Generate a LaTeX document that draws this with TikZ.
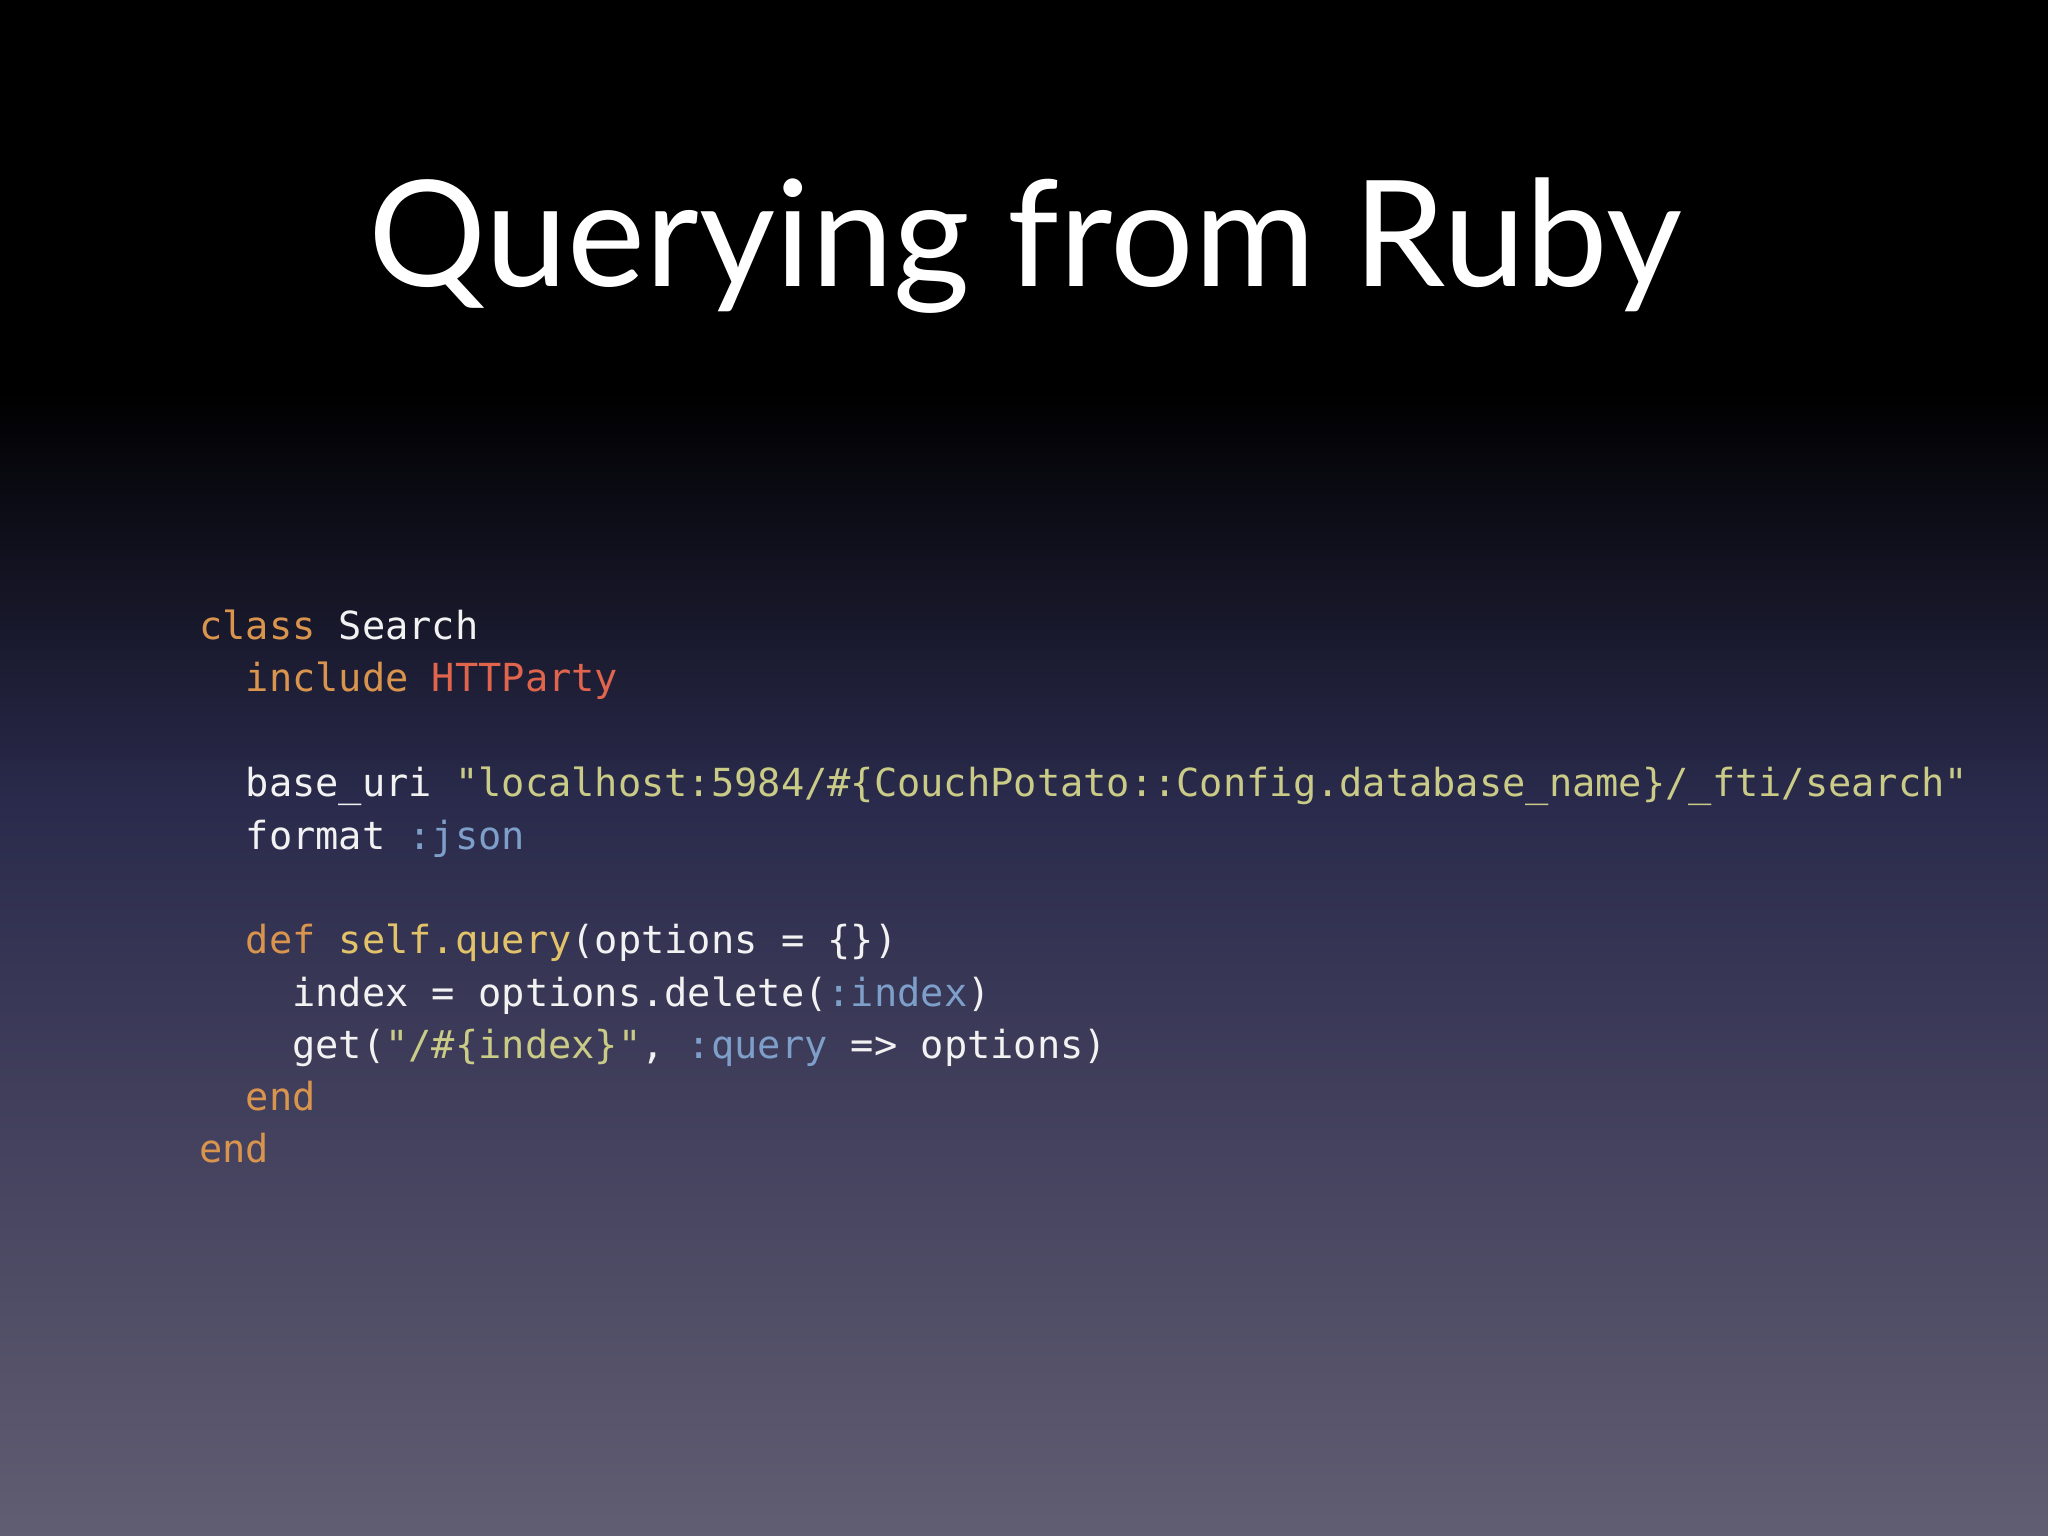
\documentclass[tikz,border=0pt]{standalone}
\usepackage{fontspec}
\setmainfont{Lato}
\setmonofont{DejaVu Sans Mono}
\definecolor{kw}{HTML}{D9944E}
\definecolor{cls}{HTML}{E0654C}
\definecolor{str}{HTML}{C9CB86}
\definecolor{sym}{HTML}{7E9FC9}
\definecolor{meth}{HTML}{E2C36A}
\definecolor{code}{HTML}{F2F2F2}
\definecolor{bgmid}{HTML}{2A2A4C}
\definecolor{bgbot}{HTML}{615D72}
\tikzset{codeline/.style={anchor=base west,inner sep=0pt,text=code,font=\fontsize{11}{13}\ttfamily}}
\begin{document}
\begin{tikzpicture}
\useasboundingbox (0,0) rectangle (20.48,-15.36);
\fill[black] (0,0) rectangle (20.48,-3.9);
\shade[top color=black,bottom color=bgmid] (0,-3.9) rectangle (20.48,-8);
\shade[top color=bgmid,bottom color=bgbot] (0,-8) rectangle (20.48,-15.36);
\node (title) [anchor=base,inner sep=0pt,text=white,font=\fontsize{42}{50}\selectfont] at (10.25,-2.87) {Querying from Ruby};
\node (l1) [codeline] at (1.985,-6.40) {\textcolor{kw}{class} Search};
\node (l2) [codeline] at (1.985,-6.92) {\ \ \textcolor{kw}{include} \textcolor{cls}{HTTParty}};
\node (l3) [codeline] at (1.985,-7.97) {\ \ base\_uri \textcolor{str}{"localhost:5984/\#\{CouchPotato::Config.database\_name\}/\_fti/search"}};
\node (l4) [codeline] at (1.985,-8.49) {\ \ format \textcolor{sym}{:json}};
\node (l5) [codeline] at (1.985,-9.53) {\ \ \textcolor{kw}{def} \textcolor{meth}{self.query}(options = \{\})};
\node (l6) [codeline] at (1.985,-10.06) {\ \ \ \ index = options.delete(\textcolor{sym}{:index})};
\node (l7) [codeline] at (1.985,-10.58) {\ \ \ \ get(\textcolor{str}{"/\#\{index\}"}, \textcolor{sym}{:query} => options)};
\node (l8) [codeline] at (1.985,-11.10) {\ \ \textcolor{kw}{end}};
\node (l9) [codeline] at (1.985,-11.62) {\textcolor{kw}{end}};
\end{tikzpicture}
\end{document}
